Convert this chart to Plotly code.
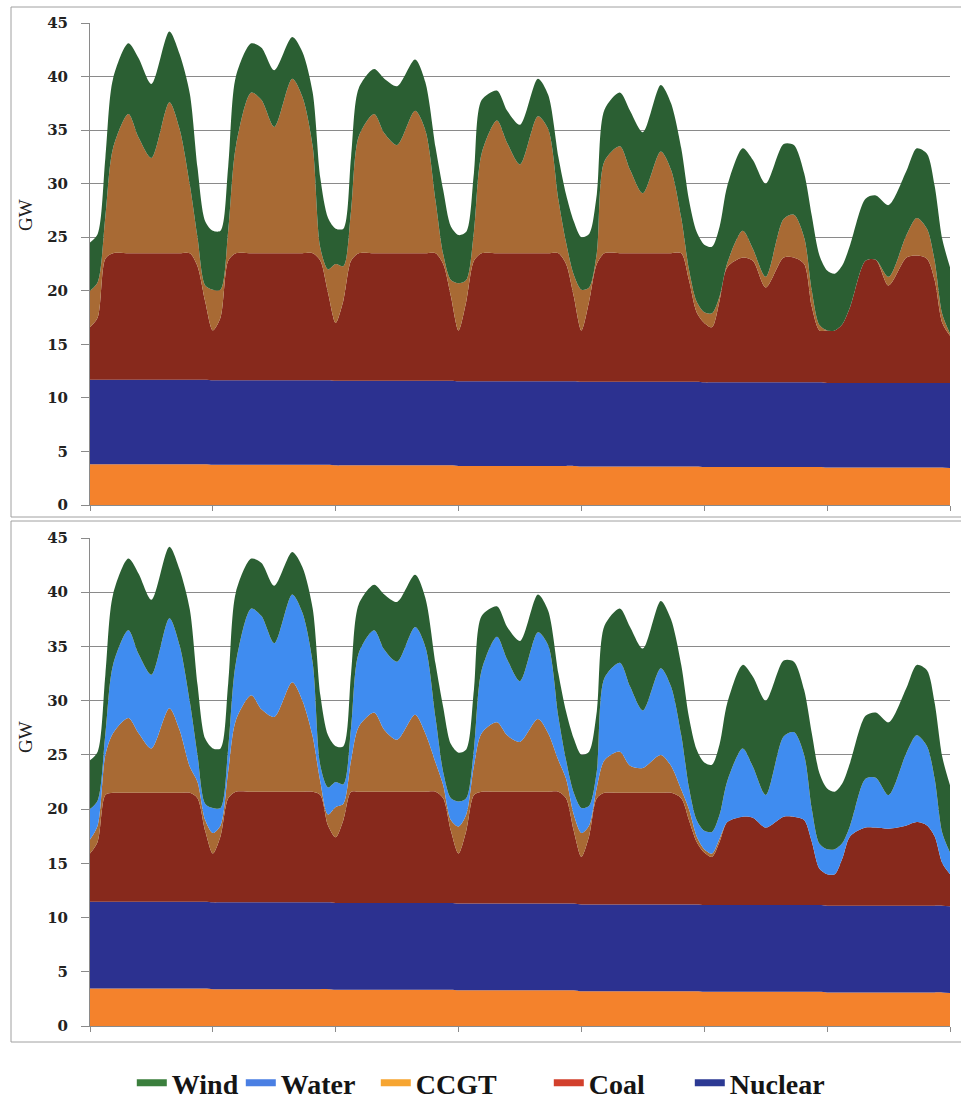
import plotly.graph_objects as go

# ---------------- time axis (hours over one week) ----------------
hour_of_day = [0, 1.5, 3, 4.5, 7.5, 9.5, 12, 15.5, 17.5, 19.5, 21, 22.5]
n_days = 7
hours = [24 * d + h for d in range(n_days) for h in hour_of_day] + [168]
day_ticks = [0, 24, 48, 72, 96, 120, 144, 168]
y_ticks = [0, 5, 10, 15, 20, 25, 30, 35, 40, 45]

# ---------------- wind (same in both panels), GW ----------------
wind = [
    4.5, 4.5, 5.5, 6.5, 6.6, 7.4, 6.9, 6.6, 7.0, 8.5, 6.5, 6.0,
    5.5, 5.5, 6.0, 6.5, 4.6, 4.9, 5.3, 3.9, 4.2, 5.0, 6.5, 4.8,
    3.3, 3.5, 5.0, 4.5, 4.2, 5.1, 5.5, 4.8, 4.5, 5.0, 6.0, 5.0,
    4.5, 4.5, 5.5, 5.0, 2.8, 3.0, 3.7, 3.5, 3.2, 4.0, 4.5, 5.0,
    4.9, 5.0, 5.5, 4.8, 5.0, 5.5, 5.7, 6.2, 6.2, 6.5, 6.5, 6.5,
    6.3, 6.2, 6.5, 7.2, 7.7, 8.3, 8.7, 7.0, 6.5, 6.0, 7.0, 6.5,
    5.6, 5.3, 5.5, 5.8, 5.8, 6.0, 6.7, 6.0, 6.5, 7.0, 7.0, 7.0,
    6.2,
]

# ---------------- top panel, GW ----------------
top_base = [
    3.8, 3.8, 3.8, 3.8, 3.8, 3.8, 3.8, 3.8, 3.8, 3.8, 3.8, 3.8,
    3.75, 3.75, 3.75, 3.75, 3.75, 3.75, 3.75, 3.75, 3.75, 3.75, 3.75, 3.75,
    3.7, 3.7, 3.7, 3.7, 3.7, 3.7, 3.7, 3.7, 3.7, 3.7, 3.7, 3.7,
    3.65, 3.65, 3.65, 3.65, 3.65, 3.65, 3.65, 3.65, 3.65, 3.65, 3.65, 3.65,
    3.6, 3.6, 3.6, 3.6, 3.6, 3.6, 3.6, 3.6, 3.6, 3.6, 3.6, 3.6,
    3.55, 3.55, 3.55, 3.55, 3.55, 3.55, 3.55, 3.55, 3.55, 3.55, 3.55, 3.55,
    3.5, 3.5, 3.5, 3.5, 3.5, 3.5, 3.5, 3.5, 3.5, 3.5, 3.5, 3.5,
    3.45,
]
top_nuclear = [
    7.9, 7.9, 7.9, 7.9, 7.9, 7.9, 7.9, 7.9, 7.9, 7.9, 7.9, 7.9,
    7.9, 7.9, 7.9, 7.9, 7.9, 7.9, 7.9, 7.9, 7.9, 7.9, 7.9, 7.9,
    7.9, 7.9, 7.9, 7.9, 7.9, 7.9, 7.9, 7.9, 7.9, 7.9, 7.9, 7.9,
    7.9, 7.9, 7.9, 7.9, 7.9, 7.9, 7.9, 7.9, 7.9, 7.9, 7.9, 7.9,
    7.9, 7.9, 7.9, 7.9, 7.9, 7.9, 7.9, 7.9, 7.9, 7.9, 7.9, 7.9,
    7.9, 7.9, 7.9, 7.9, 7.9, 7.9, 7.9, 7.9, 7.9, 7.9, 7.9, 7.9,
    7.9, 7.9, 7.9, 7.9, 7.9, 7.9, 7.9, 7.9, 7.9, 7.9, 7.9, 7.9,
    7.95,
]
top_coal = [
    4.9, 5.8, 11.3, 11.8, 11.8, 11.8, 11.8, 11.8, 11.8, 11.8, 10.6, 7.3,
    4.65, 5.85, 11.15, 11.85, 11.85, 11.85, 11.85, 11.85, 11.85, 11.85, 11.15, 8.15,
    5.4, 7.5, 11.2, 11.9, 11.9, 11.9, 11.9, 11.9, 11.9, 11.9, 10.9, 7.9,
    4.75, 7.45, 11.25, 11.95, 11.95, 11.95, 11.95, 11.95, 11.95, 11.95, 10.95, 7.95,
    4.8, 7.5, 11.0, 12.0, 12.0, 12.0, 12.0, 12.0, 12.0, 12.0, 9.5, 6.5,
    5.55, 5.15, 7.65, 10.75, 11.65, 11.35, 8.85, 11.65, 11.65, 11.05, 7.05, 4.85,
    4.9, 4.9, 5.5, 7.1, 11.4, 11.5, 9.1, 11.7, 11.9, 11.6, 9.6, 5.6,
    4.4,
]
top_ccgt = [
    3.4, 3.3, 3.9, 9.8, 13.0, 10.8, 8.9, 14.1, 11.6, 6.4, 2.7, 1.5,
    3.8, 2.6, 2.8, 10.0, 15.0, 14.3, 11.8, 16.3, 14.6, 10.0, 1.2, 2.2,
    5.5, 3.2, 4.7, 10.9, 13.0, 11.2, 10.1, 13.3, 11.5, 4.9, 0.9, 1.5,
    4.4, 2.0, 2.7, 9.3, 12.4, 10.3, 8.3, 12.8, 11.6, 5.0, 2.0, 2.0,
    3.8, 1.3, 1.0, 8.6, 10.0, 7.8, 5.6, 9.5, 7.8, 3.3, 1.0, 1.0,
    1.0, 1.3, 0.4, 0.4, 2.5, 1.1, 1.0, 3.6, 4.0, 2.5, 1.5, 0.5,
    0.0, 0.0, 0.0, 0.0, 0.0, 0.0, 0.8, 2.1, 3.5, 2.8, 1.8, 0.8,
    0.2,
]

# ---------------- bottom panel (with water), GW ----------------
bot_base = [
    3.45, 3.45, 3.45, 3.45, 3.45, 3.45, 3.45, 3.45, 3.45, 3.45, 3.45, 3.45,
    3.4, 3.4, 3.4, 3.4, 3.4, 3.4, 3.4, 3.4, 3.4, 3.4, 3.4, 3.4,
    3.35, 3.35, 3.35, 3.35, 3.35, 3.35, 3.35, 3.35, 3.35, 3.35, 3.35, 3.35,
    3.3, 3.3, 3.3, 3.3, 3.3, 3.3, 3.3, 3.3, 3.3, 3.3, 3.3, 3.3,
    3.2, 3.2, 3.2, 3.2, 3.2, 3.2, 3.2, 3.2, 3.2, 3.2, 3.2, 3.2,
    3.15, 3.15, 3.15, 3.15, 3.15, 3.15, 3.15, 3.15, 3.15, 3.15, 3.15, 3.15,
    3.1, 3.1, 3.1, 3.1, 3.1, 3.1, 3.1, 3.1, 3.1, 3.1, 3.1, 3.1,
    3.05,
]
bot_nuclear = [
    8.0, 8.0, 8.0, 8.0, 8.0, 8.0, 8.0, 8.0, 8.0, 8.0, 8.0, 8.0,
    8.0, 8.0, 8.0, 8.0, 8.0, 8.0, 8.0, 8.0, 8.0, 8.0, 8.0, 8.0,
    8.0, 8.0, 8.0, 8.0, 8.0, 8.0, 8.0, 8.0, 8.0, 8.0, 8.0, 8.0,
    8.0, 8.0, 8.0, 8.0, 8.0, 8.0, 8.0, 8.0, 8.0, 8.0, 8.0, 8.0,
    8.0, 8.0, 8.0, 8.0, 8.0, 8.0, 8.0, 8.0, 8.0, 8.0, 8.0, 8.0,
    8.0, 8.0, 8.0, 8.0, 8.0, 8.0, 8.0, 8.0, 8.0, 8.0, 8.0, 8.0,
    8.0, 8.0, 8.0, 8.0, 8.0, 8.0, 8.0, 8.0, 8.0, 8.0, 8.0, 8.0,
    8.0,
]
bot_coal = [
    4.45, 5.55, 9.85, 10.05, 10.05, 10.05, 10.05, 10.05, 10.05, 10.05, 9.55, 6.55,
    4.5, 6.1, 9.6, 10.2, 10.2, 10.2, 10.2, 10.2, 10.2, 10.2, 9.9, 7.1,
    6.05, 7.65, 10.25, 10.25, 10.25, 10.25, 10.25, 10.25, 10.25, 10.25, 9.65, 6.65,
    4.6, 6.7, 10.0, 10.3, 10.3, 10.3, 10.3, 10.3, 10.3, 10.3, 9.7, 6.7,
    4.4, 6.3, 9.8, 10.3, 10.3, 10.3, 10.3, 10.3, 10.3, 9.8, 7.8, 5.8,
    4.85, 4.45, 5.85, 7.65, 8.15, 8.05, 7.15, 8.15, 8.15, 7.85, 5.85, 3.35,
    2.9, 2.9, 4.4, 6.4, 7.2, 7.2, 7.1, 7.4, 7.7, 7.4, 6.4, 3.9,
    2.95,
]
bot_ccgt = [
    1.3, 1.5, 3.7, 5.5, 6.9, 5.5, 4.1, 7.8, 5.8, 2.4, 1.5, 1.0,
    1.9, 1.0, 2.5, 6.6, 8.9, 7.6, 6.9, 10.1, 8.4, 5.1, 1.2, 1.0,
    2.8, 1.5, 2.9, 6.0, 7.3, 5.7, 4.8, 7.1, 5.4, 2.7, 1.2, 1.0,
    2.5, 1.5, 2.7, 5.4, 6.4, 5.2, 4.6, 6.7, 5.4, 2.9, 1.8, 1.5,
    2.2, 1.0, 1.0, 3.0, 3.8, 2.5, 2.3, 3.5, 2.5, 0.8, 1.0, 0.5,
    0.3, 0.3, 0.3, 0.0, 0.0, 0.0, 0.0, 0.0, 0.0, 0.0, 0.0, 0.0,
    0.0, 0.0, 0.0, 0.0, 0.0, 0.0, 0.0, 0.0, 0.0, 0.0, 0.0, 0.0,
    0.0,
]
bot_water = [
    2.8, 2.3, 1.9, 6.3, 8.1, 7.3, 6.8, 8.3, 7.8, 6.0, 2.5, 1.5,
    2.3, 1.6, 2.1, 5.3, 8.0, 8.6, 6.8, 8.1, 8.1, 6.8, 1.5, 2.5,
    2.3, 1.8, 3.0, 6.8, 7.6, 7.4, 7.2, 8.1, 8.0, 4.1, 1.2, 2.0,
    2.3, 1.5, 1.5, 5.8, 7.9, 7.0, 5.6, 8.0, 8.1, 4.0, 1.7, 2.0,
    2.3, 1.8, 1.5, 7.6, 8.2, 7.3, 5.3, 8.0, 7.3, 5.0, 2.0, 1.5,
    1.7, 2.0, 2.2, 3.8, 6.3, 4.7, 3.0, 7.4, 7.8, 6.0, 3.0, 2.3,
    2.3, 2.3, 1.4, 1.0, 4.5, 4.6, 3.1, 6.7, 8.0, 7.3, 5.3, 2.8,
    2.0,
]

# ---------------- styling ----------------
fill_colors = {
    "Other": "#f4822c",
    "Nuclear": "#2c3190",
    "Coal": "#87291c",
    "CCGT": "#a86a34",
    "Water": "#3f8cf0",
    "Wind": "#2b5f33",
}
legend_colors = {
    "Wind": "#3b7f3d",
    "Water": "#4a7fe3",
    "CCGT": "#f6a531",
    "Coal": "#d2402c",
    "Nuclear": "#2c3a94",
}
legend_entry_widths = {"Wind": 64, "Water": 90, "CCGT": 128, "Coal": 96, "Nuclear": 96}
SERIF = "Liberation Serif"

fig = go.Figure()


def add_layer(name, values, xa, ya, group):
    fig.add_trace(go.Scatter(
        x=hours, y=values, name=name, xaxis=xa, yaxis=ya,
        stackgroup=group, mode="lines",
        line=dict(width=0, shape="spline", smoothing=0.8,
                  color=fill_colors[name]),
        fillcolor=fill_colors[name],
        showlegend=False, hoverinfo="skip",
    ))


for nm, vals in [("Other", top_base), ("Nuclear", top_nuclear), ("Coal", top_coal),
                 ("CCGT", top_ccgt), ("Wind", wind)]:
    add_layer(nm, vals, "x", "y", "top")

for nm, vals in [("Other", bot_base), ("Nuclear", bot_nuclear), ("Coal", bot_coal),
                 ("CCGT", bot_ccgt), ("Water", bot_water), ("Wind", wind)]:
    add_layer(nm, vals, "x2", "y2", "bottom")

# legend entries
for nm in ["Wind", "Water", "CCGT", "Coal", "Nuclear"]:
    fig.add_trace(go.Scatter(
        x=[None], y=[None], name=nm, mode="lines",
        line=dict(color=legend_colors[nm], width=7),
        legendwidth=legend_entry_widths[nm],
        showlegend=True, hoverinfo="skip",
    ))

grid_col = "#8a8a8a"
yax = dict(
    range=[0, 45], tickvals=y_ticks, showgrid=True, gridcolor=grid_col,
    gridwidth=1.2, zeroline=False, showline=True, linecolor=grid_col,
    linewidth=1, ticks="outside", ticklen=8, tickcolor=grid_col,
    tickfont=dict(family="DejaVu Serif", size=15, color="#222", weight="bold"),
    ticklabelstandoff=10, automargin=False,
)
xax = dict(
    range=[0, 168], tickvals=day_ticks, showticklabels=False, showgrid=False,
    zeroline=False, showline=True, linecolor=grid_col, linewidth=1,
    ticks="outside", ticklen=5, tickcolor=grid_col, automargin=False,
)

H_PLOT = 1003.0
bot_top = (1026 - 538) / H_PLOT
top_bot = (1026 - 505) / H_PLOT

fig.update_layout(
    width=961, height=1109,
    margin=dict(l=90, r=11, t=23, b=83, autoexpand=False),
    paper_bgcolor="white", plot_bgcolor="white",
    xaxis=dict(xax, anchor="y"),
    yaxis=dict(yax, domain=[top_bot, 1], anchor="x"),
    xaxis2=dict(xax, anchor="y2"),
    yaxis2=dict(yax, domain=[0, bot_top], anchor="x2"),
    showlegend=True,
    legend=dict(
        orientation="h", traceorder="normal",
        x=0.455, xanchor="center", y=-0.057, yanchor="middle",
        font=dict(family=SERIF, size=28, color="#151515", weight="bold"),
        bgcolor="rgba(0,0,0,0)",
    ),
    annotations=[
        dict(text="GW", x=-0.0756, y=(1026 - 215) / H_PLOT, xref="paper", yref="paper",
             showarrow=False, textangle=-90, xanchor="center", yanchor="middle",
             font=dict(family=SERIF, size=19, color="#222")),
        dict(text="GW", x=-0.0756, y=(1026 - 737) / H_PLOT, xref="paper", yref="paper",
             showarrow=False, textangle=-90, xanchor="center", yanchor="middle",
             font=dict(family=SERIF, size=19, color="#222")),
    ],
    shapes=[
        dict(type="rect", xref="paper", yref="paper",
             x0=(11 - 90) / 860, x1=(975 - 90) / 860,
             y0=(1026 - 517) / H_PLOT, y1=(1026 - 7) / H_PLOT,
             line=dict(color="#a0a0a0", width=1)),
        dict(type="rect", xref="paper", yref="paper",
             x0=(11 - 90) / 860, x1=(975 - 90) / 860,
             y0=(1026 - 1042) / H_PLOT, y1=(1026 - 521) / H_PLOT,
             line=dict(color="#a0a0a0", width=1)),
    ],
)

fig.write_html(
    "out.html",
    config={"displayModeBar": False},
    post_script="document.body.style.margin='0px';document.body.style.overflow='hidden';",
)
